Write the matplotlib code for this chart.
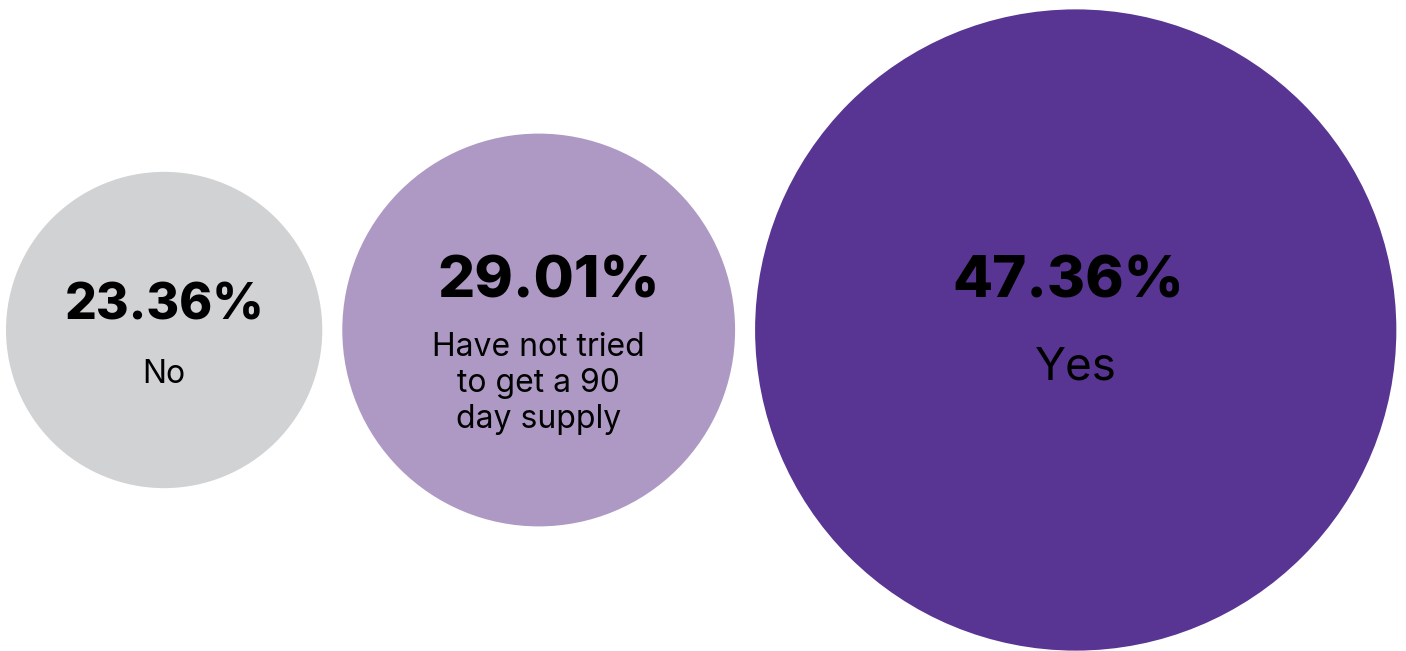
import matplotlib
matplotlib.use("Agg")
import matplotlib.pyplot as plt
from matplotlib.patches import Circle

# data
labels = ["No", "Have not tried\nto get a 90\nday supply", "Yes"]
values = [23.36, 29.01, 47.36]
colors = ["#D1D2D4", "#AE99C5", "#583592"]

W, H = 1406, 651
px_per_unit = 6.77  # circle radius in px per percentage point
gap = 20
cy = 330

plt.rcParams["font.family"] = ["Inter", "DejaVu Sans"]

fig = plt.figure(figsize=(W / 100, H / 100), dpi=100)
ax = fig.add_axes([0, 0, 1, 1])
ax.set_xlim(0, W)
ax.set_ylim(H, 0)
ax.set_aspect("equal")
ax.axis("off")

# per-circle text styling (offsets from circle centre, in px)
val_sizes = [36, 42, 42]
lab_sizes = [23, 23, 33]
val_dx = [0, 10, -7]
val_base = [-10, -33, -33]
lab_base = [53, 26, 50]
line_step = 36

x = 6
for i, (lab, v, c) in enumerate(zip(labels, values, colors)):
    r = v * px_per_unit
    cx = x + r
    ax.add_patch(Circle((cx, cy), r, color=c, lw=0))
    ax.text(cx + val_dx[i], cy + val_base[i], f"{v:.2f}%", ha="center",
            va="baseline", fontsize=val_sizes[i], fontweight="heavy",
            color="black")
    for j, line in enumerate(lab.split("\n")):
        ax.text(cx, cy + lab_base[i] + j * line_step, line, ha="center",
                va="baseline", fontsize=lab_sizes[i], color="black")
    x = cx + r + gap

fig.savefig("out.png", dpi=100)
